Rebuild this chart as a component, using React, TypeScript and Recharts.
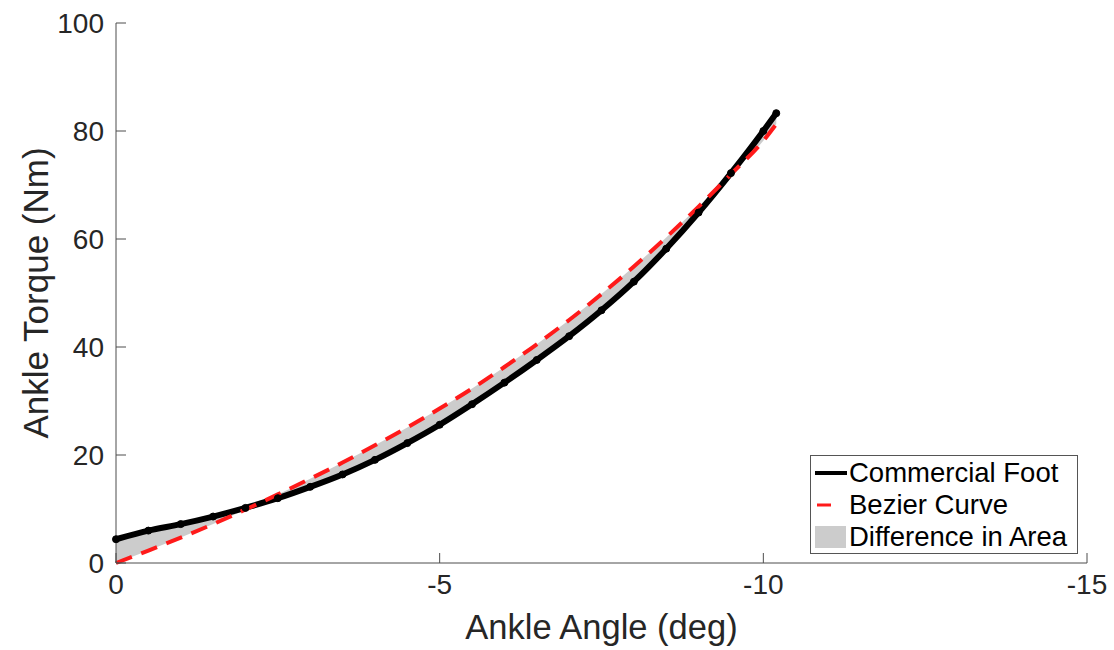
import React from 'react';
import { ComposedChart, Line, Area, XAxis, YAxis, Legend } from 'recharts';

// ankle angle (deg), shared x for both curves
const angle = [0, -0.5, -1, -1.5, -2, -2.5, -3, -3.5, -4, -4.5, -5, -5.5, -6, -6.5, -7, -7.5, -8, -8.5, -9, -9.5, -10, -10.2];
// torque (Nm)
const commercialFoot = [4.4, 6.0, 7.2, 8.6, 10.2, 12.0, 14.1, 16.4, 19.1, 22.2, 25.6, 29.4, 33.4, 37.6, 42.0, 46.8, 52.1, 58.2, 64.9, 72.2, 80.0, 83.3];
const bezierCurve = [0, 2.3, 4.7, 7.2, 9.9, 12.7, 15.6, 18.6, 21.8, 25.1, 28.6, 32.3, 36.3, 40.5, 45.0, 49.8, 54.9, 60.3, 66.0, 72.0, 78.2, 81.3];

const xTicks = [0, -5, -10, -15];
const yTicks = [0, 20, 40, 60, 80, 100];

const data = angle.map((a, i) => ({
  angle: a,
  commercial: commercialFoot[i],
  bezier: bezierCurve[i],
  diff: [bezierCurve[i], commercialFoot[i]],
}));

const FONT = '"Liberation Sans", Arial, Helvetica, sans-serif';
const AXIS = '#4d4d4d';
const TXT = '#262626';

const legendItems = [
  { name: 'Commercial Foot', kind: 'line' },
  { name: 'Bezier Curve', kind: 'dash' },
  { name: 'Difference in Area', kind: 'box' },
];

function LegendBox() {
  return (
    <div
      style={{
        border: '1px solid #555',
        background: '#fff',
        width: 266,
        height: 96,
        fontFamily: FONT,
        fontSize: 27.5,
        color: '#000',
        boxSizing: 'content-box',
        paddingTop: 1,
      }}
    >
      {legendItems.map((it) => (
        <div key={it.name} style={{ display: 'flex', alignItems: 'center', height: 32, lineHeight: '32px' }}>
          <svg width={38} height={32} style={{ flex: 'none' }}>
            {it.kind === 'line' && <line x1={4} x2={36} y1={16} y2={16} stroke="#000" strokeWidth={4} />}
            {it.kind === 'dash' && <line x1={6} x2={20} y1={16} y2={16} stroke="#ff1a1a" strokeWidth={3} />}
            {it.kind === 'box' && <rect x={4} y={5} width={31} height={22} fill="#cccccc" />}
          </svg>
          <span style={{ whiteSpace: 'nowrap' }}>{it.name}</span>
        </div>
      ))}
    </div>
  );
}

export default function App() {
  return (
    <div style={{ position: 'absolute', left: 0, top: 0, background: '#fff' }}>
      <ComposedChart
        width={1114}
        height={650}
        data={data}
        margin={{ top: 23, right: 27, left: 0, bottom: 0 }}
        style={{ fontFamily: FONT }}
      >
        <XAxis
          dataKey="angle"
          type="number"
          domain={[-15, 0]}
          reversed
          ticks={xTicks}
          height={87}
          axisLine={{ stroke: AXIS }}
          tickLine={{ stroke: AXIS }}
          tickSize={-10}
          tickMargin={21}
          tick={{ fill: TXT, fontSize: 28 }}
          label={{ value: 'Ankle Angle (deg)', position: 'insideBottom', offset: 11, fill: TXT, fontSize: 34.5 }}
        />
        <XAxis
          xAxisId="top"
          orientation="top"
          type="number"
          domain={[-15, 0]}
          reversed
          ticks={xTicks}
          height={0}
          axisLine={{ stroke: AXIS }}
          tickLine={{ stroke: AXIS }}
          tickSize={-10}
          tick={false}
        />
        <YAxis
          type="number"
          domain={[0, 100]}
          ticks={yTicks}
          width={116}
          axisLine={{ stroke: AXIS }}
          tickLine={{ stroke: AXIS }}
          tickSize={-10}
          tickMargin={22}
          tick={{ fill: TXT, fontSize: 28 }}
          label={{
            value: 'Ankle Torque (Nm)',
            angle: -90,
            position: 'insideLeft',
            offset: 36,
            fill: TXT,
            fontSize: 35,
            style: { textAnchor: 'middle' },
          }}
        />
        <YAxis
          yAxisId="right"
          orientation="right"
          type="number"
          domain={[0, 100]}
          ticks={yTicks}
          width={0}
          axisLine={{ stroke: AXIS }}
          tickLine={{ stroke: AXIS }}
          tickSize={-10}
          tick={false}
        />
        <Area
          dataKey="diff"
          type="monotone"
          fill="#cccccc"
          fillOpacity={1}
          stroke="none"
          isAnimationActive={false}
          legendType="none"
        />
        <Line
          dataKey="commercial"
          type="monotone"
          stroke="#000"
          strokeWidth={6}
          dot={{ r: 3.5, fill: '#000', stroke: '#000', strokeWidth: 1 }}
          isAnimationActive={false}
        />
        <Line
          dataKey="bezier"
          type="monotone"
          stroke="#ff1a1a"
          strokeWidth={4}
          strokeDasharray="17 10"
          dot={false}
          isAnimationActive={false}
        />
        <Legend
          layout="vertical"
          align="center"
          verticalAlign="middle"
          wrapperStyle={{ left: 810, top: 455, width: 268, height: 98 }}
          content={() => <LegendBox />}
        />
      </ComposedChart>
    </div>
  );
}
